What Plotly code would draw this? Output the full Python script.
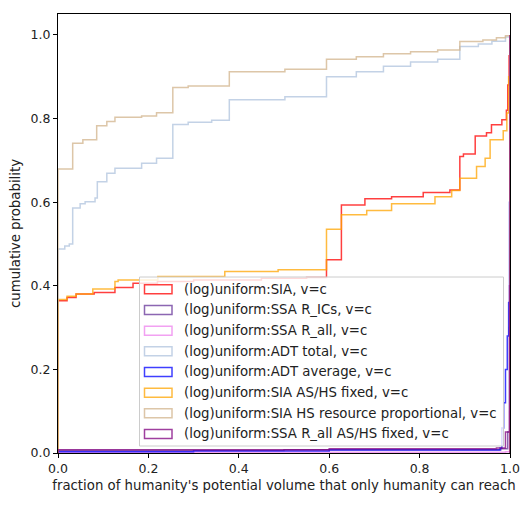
import plotly.graph_objects as go

# step points of each cumulative histogram (bin edge, cumulative value)
sia_x = [0, 0.02, 0.04, 0.08, 0.126, 0.166, 0.22, 0.3, 0.45, 0.55, 0.594, 0.627, 0.679, 0.738,
         0.808, 0.867, 0.889, 0.897, 0.923, 0.948, 0.959, 0.982, 0.992, 0.995, 0.998]
sia_y = [0.364, 0.372, 0.38, 0.384, 0.396, 0.406, 0.41, 0.414, 0.418, 0.42, 0.462, 0.593, 0.608, 0.613,
         0.623, 0.629, 0.709, 0.715, 0.758, 0.766, 0.785, 0.797, 0.82, 0.88, 0.95]

ssa_ics_x = [0, 0.5, 0.98, 0.995, 0.999]
ssa_ics_y = [0.006, 0.008, 0.01, 0.05, 0.3]

ssa_all_x = [0, 0.99, 0.999]
ssa_all_y = [0.002, 0.003, 0.1]

adt_total_x = [0, 0.015, 0.025, 0.0325, 0.049, 0.06, 0.082, 0.087, 0.108, 0.126, 0.185, 0.218, 0.254,
               0.288, 0.34, 0.379, 0.502, 0.594, 0.66, 0.72, 0.78, 0.84, 0.889, 0.93, 0.96, 0.99]
adt_total_y = [0.488, 0.495, 0.5, 0.586, 0.596, 0.601, 0.61, 0.649, 0.669, 0.681, 0.693, 0.705, 0.786,
               0.791, 0.796, 0.845, 0.852, 0.9, 0.912, 0.925, 0.935, 0.942, 0.972, 0.978, 0.985, 0.995]

adt_avg_x = [0, 0.3, 0.6, 0.978, 0.982, 0.986, 0.99, 0.994, 0.997, 0.999]
adt_avg_y = [0.003, 0.005, 0.007, 0.012, 0.06, 0.12, 0.2, 0.28, 0.36, 0.6]

sia_fixed_x = [0, 0.02, 0.04, 0.077, 0.126, 0.133, 0.221, 0.369, 0.487, 0.594, 0.627, 0.683, 0.738,
               0.834, 0.871, 0.889, 0.926, 0.945, 0.956, 0.985, 0.993, 0.997]
sia_fixed_y = [0.367, 0.375, 0.38, 0.392, 0.41, 0.414, 0.422, 0.434, 0.438, 0.535, 0.57, 0.58, 0.596,
               0.613, 0.628, 0.657, 0.685, 0.705, 0.749, 0.771, 0.813, 0.9]

sia_hs_x = [0, 0.0325, 0.055, 0.0856, 0.108, 0.126, 0.185, 0.218, 0.254, 0.288, 0.379, 0.502, 0.594,
            0.66, 0.72, 0.78, 0.84, 0.889, 0.94, 0.97, 0.99]
sia_hs_y = [0.679, 0.741, 0.749, 0.783, 0.793, 0.803, 0.806, 0.814, 0.874, 0.878, 0.912, 0.918, 0.942,
            0.948, 0.955, 0.96, 0.964, 0.984, 0.988, 0.993, 0.998]

ssa_fixed_x = [0, 0.6, 0.97, 0.99, 0.999]
ssa_fixed_y = [0.008, 0.01, 0.012, 0.05, 0.4]

names = ["(log)uniform:SIA, v=c",
         "(log)uniform:SSA R_ICs, v=c",
         "(log)uniform:SSA R_all, v=c",
         "(log)uniform:ADT total, v=c",
         "(log)uniform:ADT average, v=c",
         "(log)uniform:SIA AS/HS fixed, v=c",
         "(log)uniform:SIA HS resource proportional, v=c",
         "(log)uniform:SSA R_all AS/HS fixed, v=c"]
colors = ["red", "rebeccapurple", "violet", "lightsteelblue", "blue", "orange", "tan", "purple"]
series = [(sia_x, sia_y), (ssa_ics_x, ssa_ics_y), (ssa_all_x, ssa_all_y), (adt_total_x, adt_total_y),
          (adt_avg_x, adt_avg_y), (sia_fixed_x, sia_fixed_y), (sia_hs_x, sia_hs_y),
          (ssa_fixed_x, ssa_fixed_y)]

FONT = "DejaVu Sans"
TXT = "#222"
W, H = 532, 507
OFF = 8  # page body margin
L, R, T, B = 58, 510, 14, 453  # axes box in the reference picture

fig = go.Figure()
for (xs, ys), name, col in zip(series, names, colors):
    # outline of a 'step' histogram: up from 0 at the left edge, down to 0 at the right edge
    px_ = [xs[0]] + list(xs) + [1.0, 1.0]
    py_ = [0] + list(ys) + [1.0, 0]
    fig.add_trace(go.Scatter(x=px_, y=py_, mode="lines", name=name, line_shape="hv",
                             line=dict(color=col, width=1.5), opacity=0.75, showlegend=False))

# hand-made legend with outlined patches, like matplotlib's
def xp(px):
    return (px - L) / (R - L)

def yp(py):
    return (B - py) / (B - T)

fig.add_shape(type="rect", xref="paper", yref="paper", x0=xp(139.5), x1=xp(503.5), y0=yp(446),
              y1=yp(277), fillcolor="rgba(255,255,255,0.8)", line=dict(color="#cccccc", width=1),
              layer="above")
for i, (name, col) in enumerate(zip(names, colors)):
    cy = 289.3 + 20.67 * i
    fig.add_shape(type="rect", xref="paper", yref="paper", x0=xp(144.5), x1=xp(172), y0=yp(cy + 4.5),
                  y1=yp(cy - 4.5), fillcolor="rgba(0,0,0,0)", line=dict(color=col, width=1.5),
                  opacity=0.75, layer="above")
    fig.add_annotation(xref="paper", yref="paper", x=xp(182), y=yp(cy), text=name, showarrow=False,
                       xanchor="left", yanchor="middle", font=dict(family=FONT, size=13.3, color=TXT))

axis_common = dict(showline=True, mirror=True, linecolor="black", linewidth=1, ticks="outside",
                   ticklen=4, tickwidth=1, tickcolor="black", showgrid=False, zeroline=False,
                   tickfont=dict(family=FONT, size=12.5, color=TXT), tickformat=".1f")

fig.update_layout(
    width=W, height=H,
    margin=dict(l=L - OFF, r=W - (R - L) - (L - OFF), t=T - OFF, b=H - (B - T) - (T - OFF)),
    plot_bgcolor="white", paper_bgcolor="white",
    xaxis=dict(range=[0, 1], dtick=0.2, tick0=0,
               title=dict(text="fraction of humanity's potential volume that only humanity can reach",
                          font=dict(family=FONT, size=13.3, color=TXT), standoff=5),
               **axis_common),
    yaxis=dict(range=[0, 1.05], dtick=0.2, tick0=0,
               title=dict(text="cumulative probability", font=dict(family=FONT, size=13.3, color=TXT),
                          standoff=6),
               **axis_common),
)

fig.write_html("out.html")
